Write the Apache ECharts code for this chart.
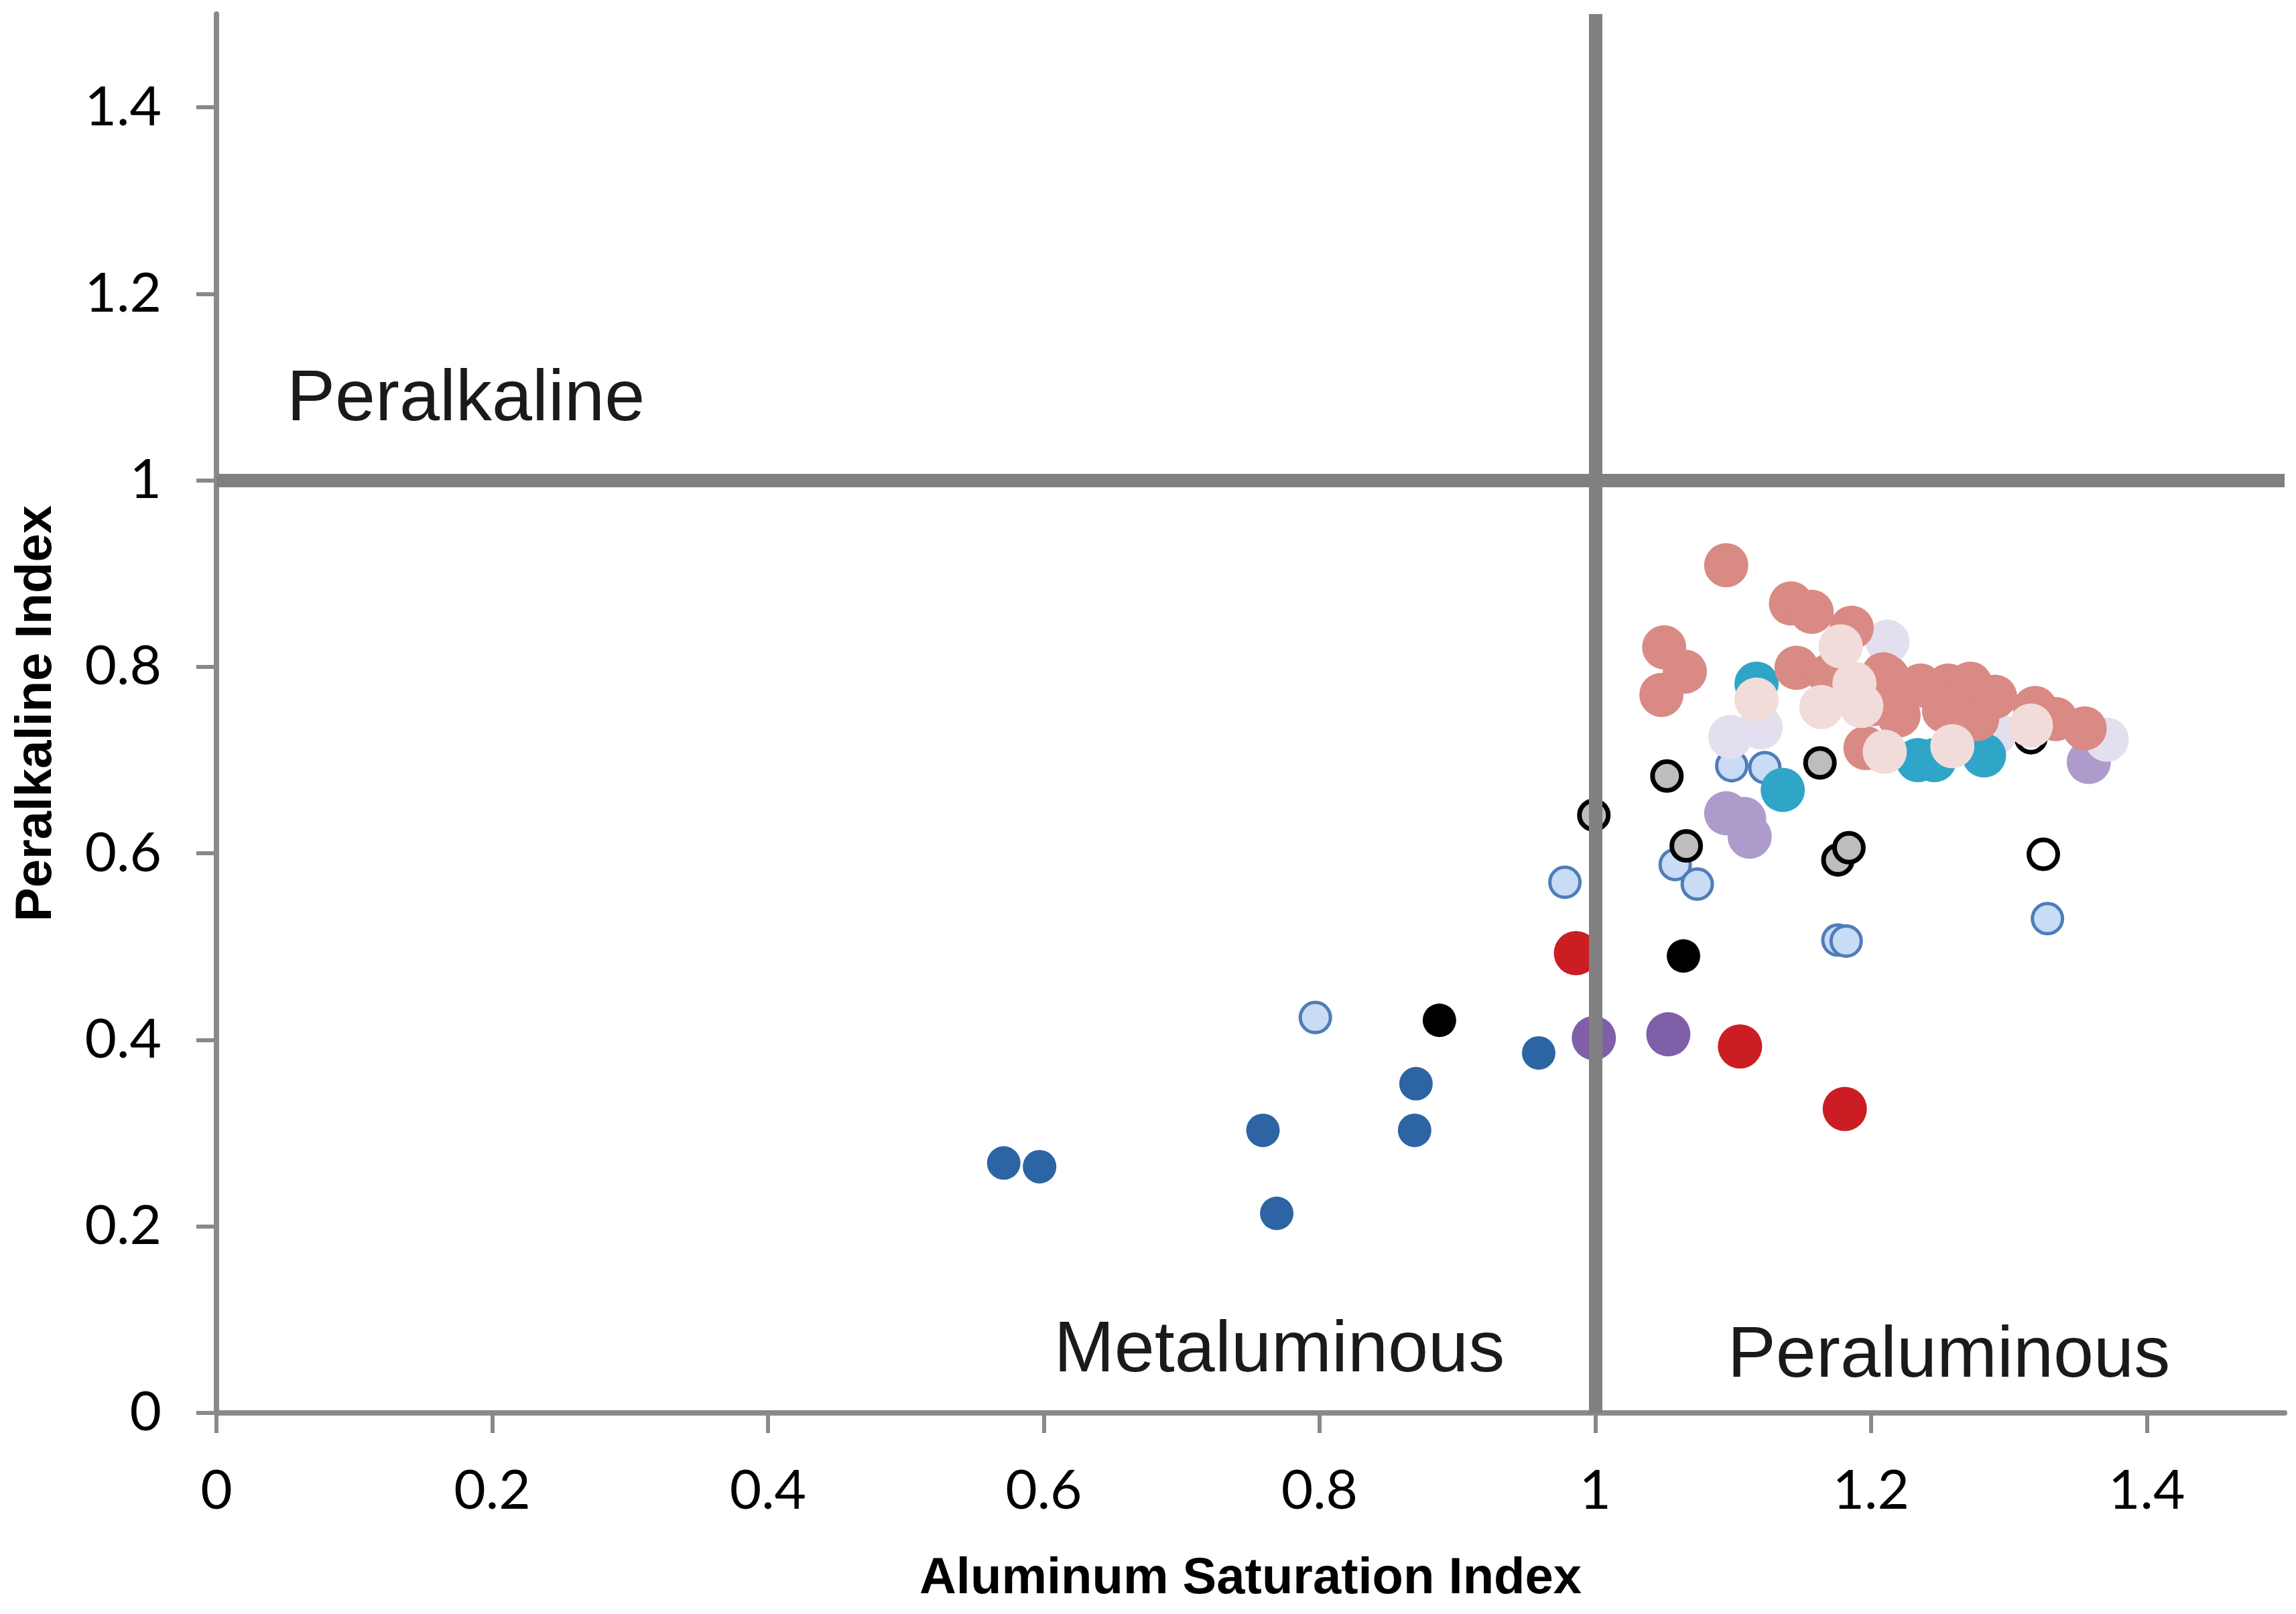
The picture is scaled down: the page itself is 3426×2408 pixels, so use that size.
<!DOCTYPE html>
<html>
<head>
<meta charset="utf-8">
<script src="https://cdn.jsdelivr.net/npm/echarts@6.0.0/dist/echarts.min.js"></script>
<style>
  html, body { margin: 0; padding: 0; background: #fff; }
  #chart_box { width: 3426px; height: 2408px; }
</style>
</head>
<body>
<div id="chart_box"></div>
<script>
// tick labels of both axes
var xTicks = [0, 0.2, 0.4, 0.6, 0.8, 1, 1.2, 1.4]
var yTicks = [0, 0.2, 0.4, 0.6, 0.8, 1, 1.2, 1.4]

// reference lines (ASI = 1, peralkaline index = 1)
var asiLimit = 1
var piLimit = 1

// [Aluminum Saturation Index, Peralkaline Index]
var darkBlue = [[0.571, 0.268], [0.597, 0.264], [0.759, 0.303], [0.769, 0.214], [0.870, 0.353], [0.869, 0.303], [0.959, 0.386]]
var lightBlue = [[0.797, 0.424], [0.978, 0.569], [1.058, 0.588], [1.074, 0.567], [1.099, 0.694], [1.123, 0.692], [1.176, 0.507], [1.182, 0.506], [1.328, 0.530], [1.117, 0.778]]
var black = [[0.887, 0.421], [1.064, 0.490]]
var red = [[0.986, 0.493], [1.105, 0.393], [1.181, 0.326]]
var purple = [[0.999, 0.402], [1.053, 0.406]]
var gray = [[0.999, 0.641], [1.052, 0.683], [1.066, 0.608], [1.163, 0.697], [1.176, 0.593], [1.184, 0.606]]
var white = [[1.316, 0.724], [1.325, 0.599]]
var lavender = [[1.095, 0.643], [1.108, 0.637], [1.112, 0.618], [1.358, 0.698]]
var paleLavender = [[1.098, 0.725], [1.120, 0.735], [1.212, 0.827], [1.290, 0.729], [1.371, 0.722]]
var teal = [[1.117, 0.782], [1.136, 0.668], [1.234, 0.700], [1.246, 0.700], [1.282, 0.705]]
var salmon = [
  [1.095, 0.909], [1.050, 0.821], [1.065, 0.795], [1.048, 0.770], [1.142, 0.868], [1.157, 0.859],
  [1.186, 0.842], [1.146, 0.799], [1.170, 0.791], [1.209, 0.792], [1.196, 0.713], [1.212, 0.789],
  [1.236, 0.780], [1.256, 0.780], [1.272, 0.782], [1.290, 0.768], [1.319, 0.756], [1.334, 0.744],
  [1.355, 0.734], [1.220, 0.748], [1.253, 0.753], [1.277, 0.744], [1.201, 0.760]
]
var palePink = [[1.117, 0.765], [1.178, 0.822], [1.164, 0.757], [1.188, 0.782], [1.193, 0.758], [1.210, 0.709], [1.259, 0.715], [1.316, 0.737]]

// region names
var regionNames = ['Peralkaline', 'Metaluminous', 'Peraluminous']
var regionPos = [[0.051, 1.086], [0.6075, 0.066], [1.096, 0.060]]

function pointSeries(name, data, size, color, borderColor, borderWidth, z) {
  return {
    name: name,
    type: 'scatter',
    data: data,
    symbol: 'circle',
    symbolSize: size,
    z: z,
    silent: true,
    itemStyle: {
      color: color,
      borderColor: borderColor || color,
      borderWidth: borderWidth || 0,
      opacity: 1
    }
  }
}

var chartDom = document.getElementById('chart_box')
var myChart = echarts.init(chartDom, null, { renderer: 'canvas' })
var option

var axisGray = '#898989'
var tickFont = { fontFamily: 'Lato', fontSize: 82, color: '#000' }

option = {
  backgroundColor: '#fff',
  animation: false,
  grid: { left: 323, right: 17, top: 21, bottom: 300 },
  xAxis: {
    type: 'value',
    min: 0,
    max: 1.5,
    name: 'Aluminum Saturation Index',
    nameLocation: 'middle',
    nameGap: 210,
    nameTextStyle: { fontFamily: 'Liberation Sans', fontWeight: 'bold', fontSize: 76, color: '#000' },
    axisLine: { show: true, onZero: false, lineStyle: { color: axisGray, width: 8 } },
    axisTick: { show: true, customValues: xTicks, length: 30, lineStyle: { color: axisGray, width: 6 } },
    axisLabel: Object.assign({ customValues: xTicks, margin: 76 }, tickFont),
    splitLine: { show: false }
  },
  yAxis: {
    type: 'value',
    min: 0,
    max: 1.5,
    name: 'Peralkaline Index',
    nameLocation: 'middle',
    nameGap: 230,
    nameRotate: 90,
    nameTextStyle: { fontFamily: 'Liberation Sans', fontWeight: 'bold', fontSize: 76, color: '#000' },
    axisLine: { show: true, onZero: false, lineStyle: { color: axisGray, width: 8 } },
    axisTick: { show: true, customValues: yTicks, length: 30, lineStyle: { color: axisGray, width: 6 } },
    axisLabel: Object.assign({ customValues: yTicks, margin: 82 }, tickFont),
    splitLine: { show: false }
  },
  series: [
    {
      name: 'limits',
      type: 'scatter',
      data: [],
      z: 1,
      silent: true,
      markLine: {
        silent: true,
        symbol: 'none',
        label: { show: false },
        lineStyle: { color: '#808080', width: 20, type: 'solid' },
        data: [{ yAxis: piLimit }, { xAxis: asiLimit }]
      }
    },
    pointSeries('darkBlue', darkBlue, 50, '#2D64A3', null, 0, 2),
    pointSeries('black', black, 50, '#000000', null, 0, 2),
    pointSeries('red', red, 66, '#CB1E24', null, 0, 2),
    pointSeries('purple', purple, 66, '#7F5FA8', null, 0, 2),
    pointSeries('lightBlue', lightBlue, 45, '#C9DCF5', '#4F7DB8', 5, 3),
    pointSeries('gray', gray, 43, '#BDBDBD', '#000000', 7, 3),
    pointSeries('white', white, 43, '#FFFFFF', '#000000', 7, 3),
    pointSeries('lavender', lavender, 66, '#AD9CCB', null, 0, 4),
    pointSeries('paleLavender', paleLavender, 66, '#E4DFEE', null, 0, 5),
    pointSeries('teal', teal, 66, '#2FA5C8', null, 0, 6),
    pointSeries('salmon', salmon, 66, '#D98A84', null, 0, 7),
    pointSeries('palePink', palePink, 66, '#F1DCDA', null, 0, 8),
    {
      name: 'regions',
      type: 'scatter',
      z: 9,
      silent: true,
      symbolSize: 0,
      itemStyle: { color: '#1a1a1a', opacity: 1 },
      data: regionNames.map(function(n, i) {
        return { value: regionPos[i], name: n }
      }),
      label: {
        show: true,
        position: 'right',
        distance: 0,
        formatter: '{b}',
        fontFamily: 'Liberation Sans',
        fontSize: 108,
        color: '#1a1a1a',
        opacity: 1,
        textBorderWidth: 0
      }
    }
  ]
}

option && myChart.setOption(option)
</script>
</body>
</html>
